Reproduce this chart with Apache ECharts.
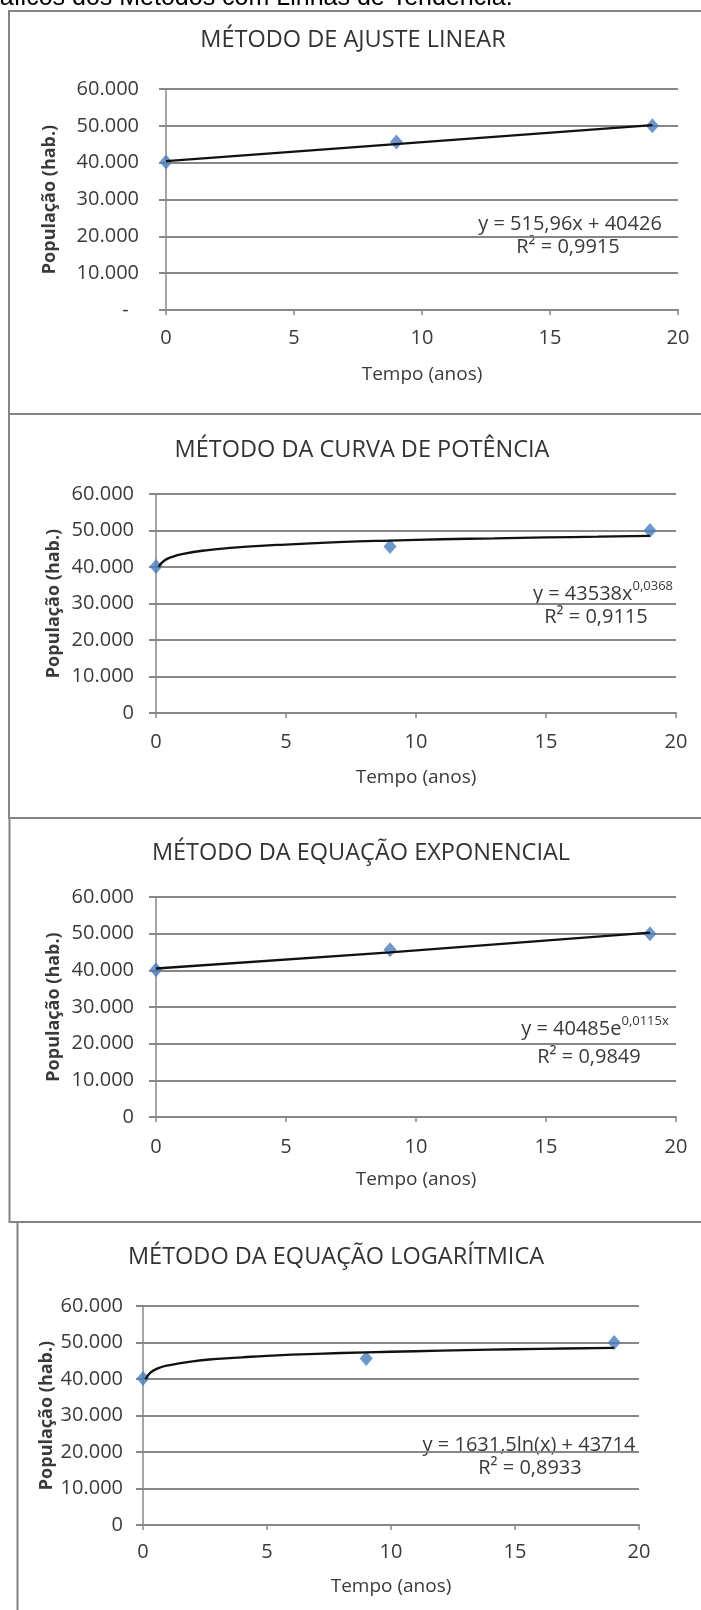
<!DOCTYPE html>
<html>
<head>
<meta charset="utf-8">
<script src="https://cdn.jsdelivr.net/npm/echarts@6/dist/echarts.min.js"></script>
<style>
html,body{margin:0;padding:0;background:#fff;}
#c{width:701px;height:1610px;}
</style>
</head>
<body>
<div id="c"></div>
<script>
// ---- data ----
const anos = [0, 9, 19];
const populacao = [40150, 45600, 50000];

const linearX = [0, 19];
const linearY = [40400, 50200];

const potenciaX = [0.1, 0.3, 0.6, 1, 2, 3, 4, 5, 7, 9, 11, 13, 15, 17, 19];
const potenciaY = [40050, 41650, 42700, 43550, 44650, 45300, 45800, 46150, 46800, 47250, 47600, 47850, 48100, 48300, 48500];

const exponencialX = [0, 9, 19];
const exponencialY = [40500, 44900, 50300];

const logaritmicaX = [0.1, 0.3, 0.6, 1, 2, 3, 4, 5, 7, 9, 11, 13, 15, 17, 19];
const logaritmicaY = [39950, 41750, 42900, 43700, 44850, 45500, 45950, 46350, 46900, 47300, 47600, 47900, 48150, 48350, 48500];

const titulos = ['MÉTODO DE AJUSTE LINEAR', 'MÉTODO DA CURVA DE POTÊNCIA', 'MÉTODO DA EQUAÇÃO EXPONENCIAL', 'MÉTODO DA EQUAÇÃO LOGARÍTMICA'];
const equacoes = ['y = 515,96x + 40426', 'y = 43538x', 'y = 40485e', 'y = 1631,5ln(x) + 43714'];
const expoentes = ['', '0,0368', '0,0115x', ''];
const r2 = ['R² = 0,9915', 'R² = 0,9115', 'R² = 0,9849', 'R² = 0,8933'];
const xTicks = [0, 5, 10, 15, 20];
const yTicks = [0, 10000, 20000, 30000, 40000, 50000, 60000];
const nomeX = 'Tempo (anos)';
const nomeY = 'População (hab.)';
const legenda = 'Gráficos dos Métodos com Linhas de Tendência.';

const trendX = [linearX, potenciaX, exponencialX, logaritmicaX];
const trendY = [linearY, potenciaY, exponencialY, logaritmicaY];
const trendSmooth = [false, true, true, true];

// ---- layout ----
const FONT = '"Open Sans", sans-serif';
const TXT = '#3a3a3a';
const GRID = '#878787';
const grids = [
  {left: 166, top: 89, width: 512, height: 221, ylm: 27, xlm: 18, title: [353, 40], yname: 50, xname: 65, eq: [570, 222], r2: [568, 247]},
  {left: 156, top: 494, width: 520, height: 219, ylm: 22, xlm: 19, title: [362, 450], yname: 54, xname: 65, eq: [603, 592], r2: [596, 617]},
  {left: 156, top: 897, width: 520, height: 220, ylm: 22, xlm: 20, title: [361, 853], yname: 54, xname: 63, eq: [595, 1027], r2: [589, 1057]},
  {left: 143, top: 1306, width: 496, height: 219, ylm: 20, xlm: 17, title: [336, 1257], yname: 47, xname: 62, eq: [529, 1443], r2: [530, 1468]}
];

function fmtY(i) {
  return function (v) {
    if (v === 0) return i === 0 ? '-  ' : '0';
    return (v / 1000).toFixed(0) + '.000';
  };
}

const option = {
  backgroundColor: '#ffffff',
  animation: false,
  grid: grids.map(g => ({left: g.left, top: g.top, width: g.width, height: g.height, containLabel: false})),
  xAxis: grids.map((g, i) => ({
    type: 'value', gridIndex: i, min: xTicks[0], max: xTicks[xTicks.length - 1], interval: 5,
    axisLine: {show: true, lineStyle: {color: GRID, width: 2}},
    axisTick: {show: true, length: 5, lineStyle: {color: GRID, width: 1.5}},
    splitLine: {show: false},
    axisLabel: {fontFamily: FONT, fontSize: 20, color: TXT, margin: g.xlm}
  })),
  yAxis: grids.map((g, i) => ({
    type: 'value', gridIndex: i, min: yTicks[0], max: yTicks[yTicks.length - 1], interval: 10000,
    axisLine: {show: true, lineStyle: {color: GRID, width: 1.5}},
    axisTick: {show: true, length: 7, lineStyle: {color: GRID, width: 2}},
    splitLine: {show: true, lineStyle: {color: GRID, width: 2}},
    axisLabel: {fontFamily: FONT, fontSize: 20, color: TXT, margin: g.ylm, formatter: fmtY(i)}
  })),
  series: [],
  graphic: []
};

grids.forEach((g, i) => {
  option.series.push({
    type: 'scatter', xAxisIndex: i, yAxisIndex: i,
    data: anos.map((a, k) => [a, populacao[k]]),
    symbol: 'diamond', symbolSize: [13, 15],
    itemStyle: {color: '#4a7ebb'}, z: 2
  });
  option.series.push({
    type: 'line', xAxisIndex: i, yAxisIndex: i,
    data: trendX[i].map((a, k) => [a, trendY[i][k]]),
    showSymbol: false, smooth: trendSmooth[i],
    lineStyle: {color: '#111', width: 2.3}, z: 3
  });
});

const G = option.graphic;
// caption (cut at the top of the page)
G.push({type: 'text', x: -28, y: -2, style: {text: legenda, font: '25px "Liberation Sans", Arial, sans-serif', fill: '#000', align: 'left', verticalAlign: 'middle'}});
// chart boxes
G.push({type: 'rect', shape: {x: 9, y: 11, width: 720, height: 403}, style: {fill: 'none', stroke: '#858585', lineWidth: 2}, z: -1});
G.push({type: 'rect', shape: {x: 9, y: 414, width: 720, height: 404}, style: {fill: 'none', stroke: '#858585', lineWidth: 2}, z: -1});
G.push({type: 'rect', shape: {x: 9.5, y: 818, width: 720, height: 404}, style: {fill: 'none', stroke: '#858585', lineWidth: 2}, z: -1});
G.push({type: 'rect', shape: {x: 17.5, y: 1222, width: 720, height: 420}, style: {fill: 'none', stroke: '#858585', lineWidth: 2}, z: -1});

grids.forEach((g, i) => {
  G.push({type: 'text', x: g.title[0], y: g.title[1], style: {text: titulos[i], font: '23.5px ' + FONT, fill: '#333', align: 'center', verticalAlign: 'middle'}});
  G.push({type: 'text', x: g.yname, y: g.top + g.height / 2, rotation: Math.PI / 2, style: {text: nomeY, font: 'bold 18px ' + FONT, fill: TXT, align: 'center', verticalAlign: 'middle'}});
  G.push({type: 'text', x: g.left + g.width / 2, y: g.top + g.height + g.xname, style: {text: nomeX, font: '19px ' + FONT, fill: TXT, align: 'center', verticalAlign: 'middle'}});
  const eqText = expoentes[i] ? '{b|' + equacoes[i] + '}{s|' + expoentes[i] + '}' : '{b|' + equacoes[i] + '}';
  G.push({type: 'text', x: g.eq[0], y: g.eq[1], style: {
    text: eqText, align: 'center', verticalAlign: 'middle',
    rich: {
      b: {fontFamily: FONT, fontSize: 20, fill: TXT, lineHeight: 24, verticalAlign: 'bottom'},
      s: {fontFamily: FONT, fontSize: 13, fill: TXT, lineHeight: 24, verticalAlign: 'top', padding: [0, 0, 7, 0]}
    }
  }});
  G.push({type: 'text', x: g.r2[0], y: g.r2[1], style: {text: r2[i], font: '20px ' + FONT, fill: TXT, align: 'center', verticalAlign: 'middle'}});
});

const chart = echarts.init(document.getElementById('c'), null, {renderer: 'canvas'});
chart.setOption(option);
</script>
</body>
</html>
